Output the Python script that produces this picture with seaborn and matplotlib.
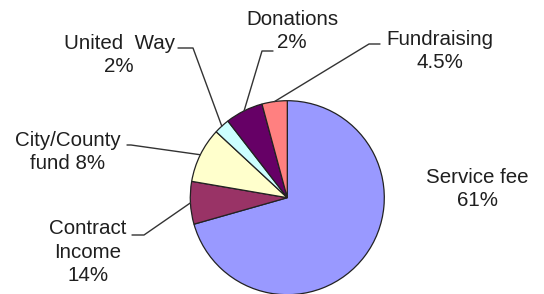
import numpy as np
import matplotlib
matplotlib.use("Agg")
import matplotlib.pyplot as plt
import seaborn as sns
from matplotlib.lines import Line2D

# ---- data (slice sizes read from the drawn wedges; label texts as printed) ----
categories = ["Service fee", "Contract Income", "City/County fund", "United Way", "Donations", "Fundraising"]
slice_values = [70.6, 7.1, 9.2, 2.6, 6.3, 4.2]
label_texts = ["Service fee\n61%", "Contract\nIncome\n14%", "City/County\nfund 8%",
               "United  Way\n2%", "Donations\n2%", "Fundraising\n4.5%"]
colors = ["#9999FF", "#993366", "#FFFFCC", "#CCFFFF", "#660066", "#FF8080"]

# label layout in pixels: (center x, center y, text-side end of leader, elbow) ; None = no leader
W, H = 544, 294
label_pos = [(477, 189), (88, 252), (68, 152), (119, 55), (292, 31), (440, 51)]
leader_pts = [None, [(132, 235), (144, 235)], [(127, 145), (131, 145)],
              [(178, 48), (193, 48)], [(273, 51), (262, 51)], [(380, 44), (369, 44)]]

sns.set_theme(style="white")
plt.rcParams['font.family'] = ['Liberation Sans', 'DejaVu Sans']

fig = plt.figure(figsize=(W / 100, H / 100), dpi=100)
fig.patch.set_facecolor("white")

cx, cy, R = 287.3, 197.7, 97.0
ax = fig.add_axes([(cx - R) / W, (H - cy - R) / H, 2 * R / W, 2 * R / H])
wedges, _ = ax.pie(slice_values, colors=colors, startangle=90, counterclock=False,
                   radius=1.0, wedgeprops=dict(edgecolor="#222222", linewidth=0.9))
for w in wedges:
    w.set_clip_on(False)
ax.set_xlim(-1, 1)
ax.set_ylim(-1, 1)
ax.set_aspect("equal")
ax.axis("off")

def px(x, y):
    return (x / W, 1 - y / H)

txt_color = "#1f1f1f"
for w, txt, pos, pts in zip(wedges, label_texts, label_pos, leader_pts):
    fig.text(*px(*pos), txt, ha="center", va="center", multialignment="center",
             fontsize=14.8, color=txt_color, linespacing=1.27)
    if pts is None:
        continue
    ang = np.deg2rad((w.theta1 + w.theta2) / 2)
    ex, ey = np.cos(ang), np.sin(ang)
    disp = ax.transData.transform((ex, ey))
    fx, fy = fig.transFigure.inverted().transform(disp)
    xs = [px(*p)[0] for p in pts] + [fx]
    ys = [px(*p)[1] for p in pts] + [fy]
    fig.add_artist(Line2D(xs, ys, transform=fig.transFigure, color="#333333", lw=1.0))

fig.savefig("out.png", dpi=100, facecolor="white")
